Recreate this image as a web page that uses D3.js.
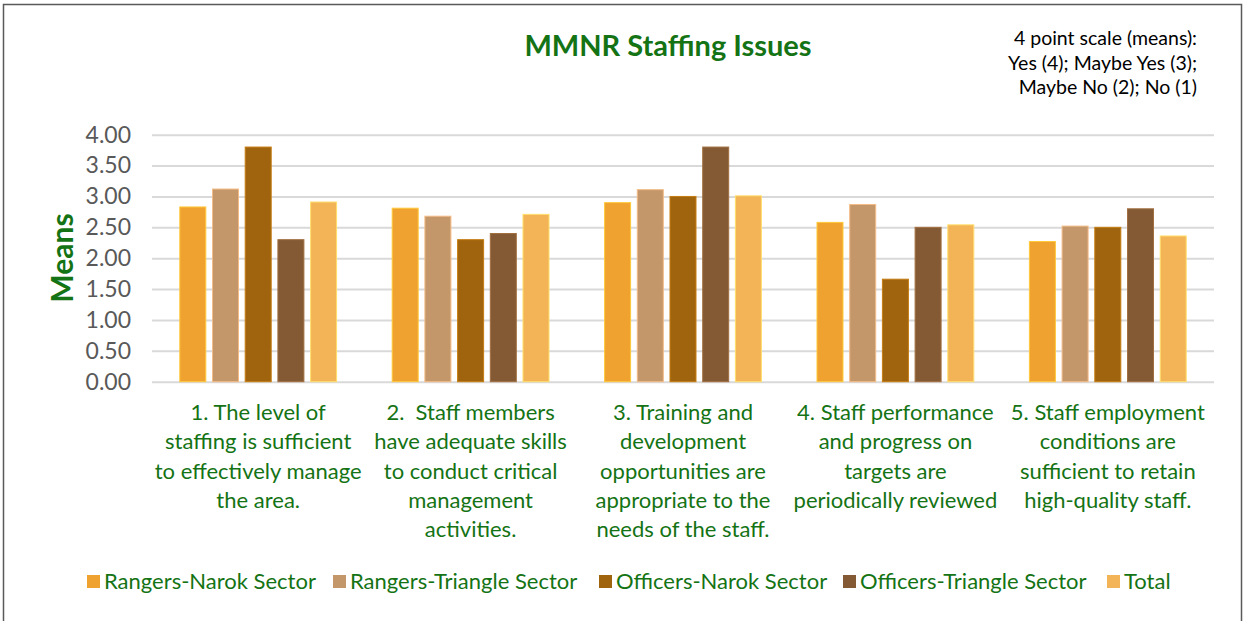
<!DOCTYPE html>
<html>
<head>
<meta charset="utf-8">
<script src="https://cdn.jsdelivr.net/npm/d3@7"></script>
<style>
body { margin:0; background:#ffffff; }
#vizcontainer { width:1244px; height:621px; }
text { font-family: Lato, "Open Sans", sans-serif; }
</style>
</head>
<body>
<div id="vizcontainer"></div>
<script>
var categories = ["q1", "q2", "q3", "q4", "q5"];
var categoryLines = [
	["1. The level of", "staffing is sufficient", "to effectively manage", "the area."],
	["2.  Staff members", "have adequate skills", "to conduct critical", "management", "activities."],
	["3. Training and", "development", "opportunities are", "appropriate to the", "needs of the staff."],
	["4. Staff performance", "and progress on", "targets are", "periodically reviewed"],
	["5. Staff employment", "conditions are", "sufficient to retain", "high-quality staff."]
];
var seriesNames = ["Rangers-Narok Sector", "Rangers-Triangle Sector", "Officers-Narok Sector", "Officers-Triangle Sector", "Total"];
var seriesColors = ["#EFA22F", "#C4976B", "#A0640E", "#835A34", "#F3B457"];
var rangersNarok = [2.83, 2.81, 2.90, 2.58, 2.27];
var rangersTriangle = [3.12, 2.68, 3.11, 2.87, 2.52];
var officersNarok = [3.80, 2.30, 3.00, 1.66, 2.50];
var officersTriangle = [2.30, 2.40, 3.80, 2.50, 2.80];
var total = [2.91, 2.71, 3.01, 2.54, 2.36];
var yTicks = [0, 0.5, 1, 1.5, 2, 2.5, 3, 3.5, 4];
var noteLines = ["4 point scale (means):", "Yes (4); Maybe Yes (3);", "Maybe No (2); No (1)"];

var green = "#147314";
var wwidth = 1244;
var hheight = 621;

function drawChart(){
	var svg = d3.select("#vizcontainer").append("svg")
		.attr("width", wwidth)
		.attr("height", hheight);

	// chart border
	svg.append("rect")
		.attr("x", 3.5).attr("y", 4.5)
		.attr("width", 1238).attr("height", 640)
		.attr("fill", "#ffffff")
		.attr("stroke", "#595959")
		.attr("stroke-width", 1.5);

	var allSeries = [rangersNarok, rangersTriangle, officersNarok, officersTriangle, total];

	var x0 = d3.scaleBand().domain(categories).range([152, 1214]).paddingInner(0).paddingOuter(0);
	var x1 = d3.scaleBand().domain(seriesNames).range([0, x0.bandwidth()]).paddingInner(0.205).paddingOuter(0.85);
	var y = d3.scaleLinear().domain([0, 4]).range([381.7, 134.7]);

	// grid
	var grid = svg.append("g")
		.attr("transform", "translate(152,0)")
		.call(d3.axisLeft(y).tickValues(yTicks).tickSize(-(1214 - 152)).tickFormat(""));
	grid.select(".domain").remove();
	grid.selectAll("line").attr("stroke", "#d9d9d9").attr("stroke-width", 2);

	// y labels
	var yax = svg.append("g")
		.attr("transform", "translate(131,0)")
		.call(d3.axisLeft(y).tickValues(yTicks).tickSize(0).tickFormat(d3.format(".2f")));
	yax.select(".domain").remove();
	yax.selectAll("text")
		.attr("x", 0)
		.attr("font-size", "23px")
		.attr("fill", "#595959")
		.style("font-family", "Lato, sans-serif");

	// bars
	var groups = svg.append("g").selectAll("g")
		.data(categories)
		.enter().append("g")
		.attr("transform", function(d){ return "translate(" + x0(d) + ",0)"; });

	groups.selectAll("rect")
		.data(function(d, i){
			return seriesNames.map(function(s, j){ return {name: s, value: allSeries[j][i], color: seriesColors[j]}; });
		})
		.enter().append("rect")
		.attr("x", function(d){ return x1(d.name); })
		.attr("y", function(d){ return y(d.value); })
		.attr("width", x1.bandwidth())
		.attr("height", function(d){ return y(0) - y(d.value); })
		.attr("fill", function(d){ return d.color; })
		.attr("stroke", function(d){ return d3.color(d.color).brighter(0.6); })
		.attr("stroke-width", 1);

	// category labels
	var labels = svg.append("g").selectAll("text")
		.data(categories)
		.enter().append("text")
		.attr("text-anchor", "middle")
		.attr("font-size", "22px")
		.attr("fill", green)
		.style("white-space", "pre")
		.attr("x", function(d){ return x0(d) + x0.bandwidth() / 2; })
		.attr("y", 420);
	labels.each(function(d, i){
		var t = d3.select(this);
		categoryLines[i].forEach(function(line, k){
			t.append("tspan")
				.attr("x", x0(d) + x0.bandwidth() / 2)
				.attr("dy", k == 0 ? 0 : 29.3)
				.text(line);
		});
	});

	// title
	svg.append("text")
		.attr("x", 668).attr("y", 56)
		.attr("text-anchor", "middle")
		.attr("font-size", "29px")
		.attr("font-weight", "bold")
		.attr("fill", green)
		.text("MMNR Staffing Issues");

	// y title
	svg.append("text")
		.attr("transform", "translate(73,258) rotate(-90)")
		.attr("text-anchor", "middle")
		.attr("font-size", "30px")
		.attr("font-weight", "bold")
		.attr("fill", green)
		.text("Means");

	// note
	svg.append("g").selectAll("text")
		.data(noteLines)
		.enter().append("text")
		.attr("x", 1197)
		.attr("y", function(d, i){ return 45 + i * 24.5; })
		.attr("text-anchor", "end")
		.attr("font-size", "19.5px")
		.attr("fill", "#000000")
		.text(function(d){ return d; });

	// legend
	var legendX = [87, 333, 599, 843, 1107];
	var legend = svg.append("g").selectAll("g")
		.data(seriesNames)
		.enter().append("g")
		.attr("transform", function(d, i){ return "translate(" + legendX[i] + ",575)"; });
	legend.append("rect")
		.attr("width", 13).attr("height", 13)
		.attr("fill", function(d, i){ return seriesColors[i]; });
	legend.append("text")
		.attr("x", 17).attr("y", 14)
		.attr("font-size", "22px")
		.attr("fill", green)
		.text(function(d){ return d; });
}

drawChart();
</script>
</body>
</html>
